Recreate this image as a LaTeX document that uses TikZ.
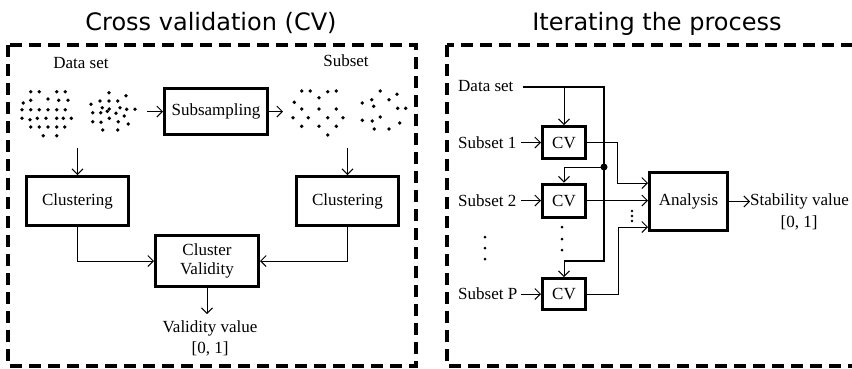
\documentclass[tikz,border=0pt]{standalone}
\usepackage{fontspec}
\setmainfont{Liberation Serif}
\newfontfamily\titlefont{DejaVu Sans}
\usetikzlibrary{arrows.meta}

\begin{document}
\begin{tikzpicture}[x=1pt,y=-1pt,
  txt/.style={font=\fontsize{17}{21}\selectfont, inner sep=0pt},
  heading/.style={font=\titlefont\fontsize{24}{28}\selectfont, inner sep=0pt, anchor=base},
  frame/.style={line width=3.4pt, dash pattern=on 12pt off 7pt},
  blk/.style={draw, line width=3pt, inner sep=0pt, align=center,
              font=\fontsize{17}{21}\selectfont},
  conn/.style={line width=1pt, -{Straight Barb[length=5.5pt,width=11pt]}},
  bus/.style={line width=2pt},
  pt/.style={fill=black}]
\useasboundingbox (0,0) rectangle (852,368);
\clip (0,0) rectangle (852,368);

% ---------- panel frames and headings ----------
\draw[frame] (8,45) rectangle (416,366);
\draw[frame] (447,45) rectangle (880,366);
\node[heading] (t1) at (211,30) {Cross validation (CV)};
\node[heading] (t2) at (657,30.5) {Iterating the process};

% ---------- left panel: one cross-validation run ----------
\node[txt, anchor=base] (dsL) at (81,68) {Data set};
\node[txt, anchor=base] (ssL) at (346,66) {Subset};

% full data set
\foreach \p in {(30.7,91.7),(39.3,91.7),(56.7,91.7),(65.3,91.7),
  (23.3,103),(30.7,100.3),(48,99),(58.7,100.3),(68,100.3),
  (22,109.7),(30.7,109.7),(39.3,109.7),(48,109.7),(56.7,109.7),(65.3,109.7),
  (22,118.3),(30,119.7),(37.3,118.3),(46,118.3),(56.7,118.3),(63.3,118.3),(71.3,118.3),
  (30.7,127),(39.3,127),(48,127),(56.7,127),(64.7,127),
  (43.3,135.7),(56.7,135.7)}
  \fill[pt] \p circle (1.9pt);
\foreach \p in {(109,92.7),(126,95.7),(100,101),(109,101),(117.7,101),(91,104.3),
  (102.3,107.7),(109.3,109),(120,107.7),(126.7,109.3),(135,109.3),(92.7,112.7),
  (100.7,112.7),(107.3,111.3),(116,113.3),(124.3,116),(92.7,121.7),(101,122.3),
  (109.3,118.3),(118.3,121.7),(128.3,124),(102.7,130),(117.7,130)}
  \fill[pt] \p circle (1.9pt);
% subsampled set
\foreach \p in {(301.7,91),(310.3,91),(327.7,91.7),(336.3,91),
  (294.3,102.3),(319,97.7),
  (301.7,109),(319,109),(336.3,109),
  (293,117.7),(308.3,117.7),(327.7,117.7),(343,117.7),
  (301.7,126.3),(319,126.3),(336.3,126.3),
  (327.7,135)}
  \fill[pt] \p circle (1.9pt);
\foreach \p in {(380.3,91),(397,94.3),
  (362.3,103),(371.7,99.7),(389,99.7),
  (373.7,106.3),(397.7,108.3),(405.7,108.3),
  (362.3,120.3),(372.3,121),(380.3,117),
  (399.7,123),
  (374.3,129),(389,129)}
  \fill[pt] \p circle (1.9pt);

\node[blk, minimum width=103pt, minimum height=46pt] (subs) at (216,111.5) {Subsampling};
\node[blk, minimum width=102pt, minimum height=49pt] (clusL) at (77.5,201) {Clustering};
\node[blk, minimum width=102pt, minimum height=49pt] (clusR) at (347.5,201) {Clustering};
\node[blk, minimum width=103pt, minimum height=51pt] (valid) at (207,261)
  {\raisebox{-2pt}{Cluster}\\Validity};

\coordinate (inA) at (147,111.5);
\coordinate (outA) at (283,111.5);
\coordinate (dnL) at (77.5,148);
\coordinate (dnR) at (347.5,148);
\coordinate (vout) at (207,314);
\draw[conn] (inA) -- (subs.west);
\draw[conn] (subs.east) -- (outA);
\draw[conn] (dnL) -- (clusL.north);
\draw[conn] (dnR) -- (clusR.north);
\draw[conn] (clusL.south) |- (valid.west);
\draw[conn] (clusR.south) |- (valid.east);
\draw[conn] (valid.south) -- (vout);
\node[txt, anchor=base] (vv) at (210,332) {Validity value};
\node[txt, anchor=base] (vr) at (210,353) {[0, 1]};

% ---------- right panel: repeated runs ----------
\node[txt, anchor=base west] (dsR) at (458,91) {Data set};
\node[blk, minimum width=43pt, minimum height=32pt] (cv1) at (564,142.5) {CV};
\node[blk, minimum width=43pt, minimum height=33pt] (cv2) at (564,200.5) {CV};
\node[blk, minimum width=43pt, minimum height=31pt] (cvP) at (564,294) {CV};
\node[blk, minimum width=78pt, minimum height=58pt] (an) at (688.5,201.5) {Analysis};

\node[txt, anchor=west] (s1) at (458,142.5) {Subset 1};
\node[txt, anchor=west] (s2) at (458,200.5) {Subset 2};
\node[txt, anchor=west] (sP) at (458,294) {Subset P};
\draw[conn] ([xshift=5pt]s1.east) -- (cv1.west);
\draw[conn] ([xshift=5pt]s2.east) -- (cv2.west);
\draw[conn] ([xshift=4pt]sP.east) -- (cvP.west);

% data set bus
\coordinate (d0) at (523,87);
\coordinate (d1) at (604,87);
\coordinate (d2) at (604,261);
\coordinate (d3) at (564,261);
\coordinate (j) at (604,167);
\draw[bus] (d0) -- (d1) -- (d2) -- (d3);
\draw[conn] (cv1.north |- d0) -- (cv1.north);
\draw[conn] (d3) -- (cvP.north);
\fill (j) circle (3.5pt);
\draw[conn] (j) -| (cv2.north);

% results to the analysis block
\coordinate (k1) at (617,183);
\coordinate (kP) at (618,227);
\draw[conn] (cv1.east) -| (k1) -- (k1 -| an.west);
\draw[conn] (cv2.east) -- (cv2.east -| an.west);
\draw[conn] (cvP.east) -| (kP) -- (kP -| an.west);

% elision marks
\foreach \yy in {211,216,221} \fill (632,\yy) circle (1.4pt);
\foreach \yy in {227,239,250} \fill (562,\yy) circle (1.5pt);
\foreach \yy in {237,248,259} \fill (485,\yy) circle (1.5pt);

\node[txt, anchor=west] (stab) at (750,201.5) {Stability value};
\draw[conn] (an.east) -- (stab.west);
\node[txt, anchor=base] (stab01) at (799,227) {[0, 1]};
\end{tikzpicture}
\end{document}
